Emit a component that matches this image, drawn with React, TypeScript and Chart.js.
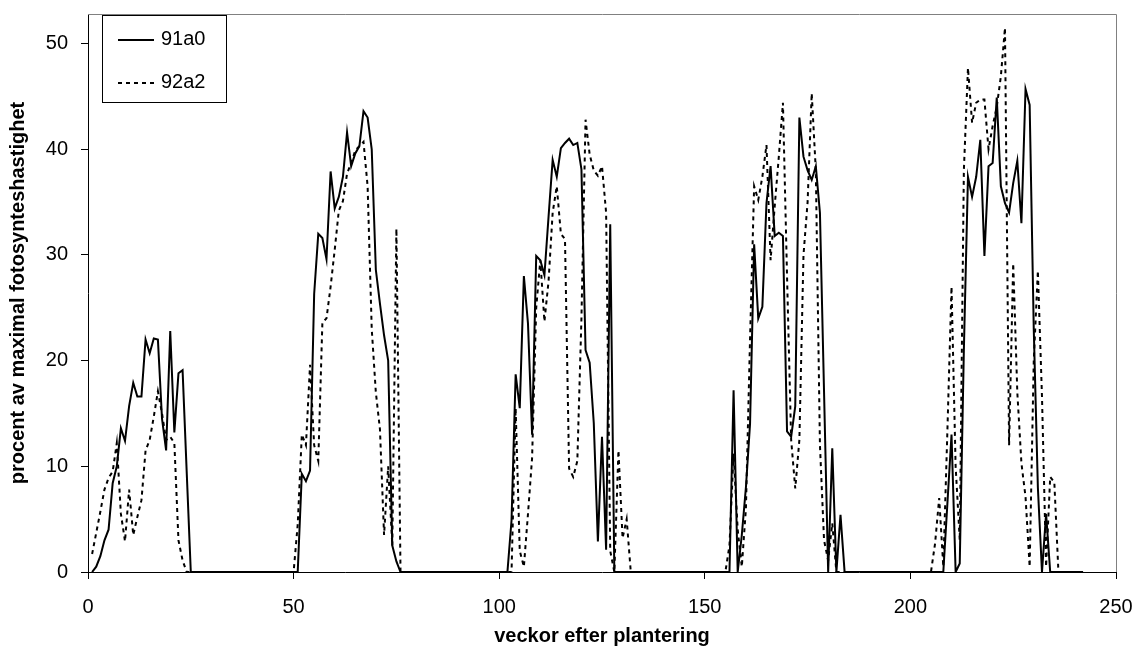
import React, { useEffect, useRef } from "react";
import { Chart, registerables } from "chart.js";

Chart.register(...registerables);

const FONT = "'Liberation Sans', Arial, Helvetica, sans-serif";

const seriesLabels = ["91a0", "92a2"];
const xAxisTitle = "veckor efter plantering";
const yAxisTitle = "procent av maximal fotosynteshastighet";
const xTicks = [0, 50, 100, 150, 200, 250];
const yTicks = [0, 10, 20, 30, 40, 50];

// Series 91a0 (solid)
const weeks91a0 = [
  1, 2, 3, 4, 5, 6, 7, 8, 9, 10, 11, 12, 13, 14, 15, 16, 17, 18, 19, 20, 21, 22, 23, 24, 25,
  51, 52, 53, 54, 55, 56, 57, 58, 59, 60, 61, 62, 63, 64, 65, 66, 67, 68, 69, 70, 71, 72, 73, 74, 75, 76,
  102, 103, 104, 105, 106, 107, 108, 109, 110, 111, 112, 113, 114, 115, 116, 117, 118, 119, 120, 121, 122, 123, 124, 125, 126, 127, 128,
  156, 157, 158, 159, 160, 161, 162, 163, 164, 165, 166, 167, 168, 169, 170, 171, 172, 173, 174, 175, 176, 177, 178, 179, 180, 181, 182, 183, 184,
  208, 209, 210, 211, 212, 213, 214, 215, 216, 217, 218, 219, 220, 221, 222, 223, 224, 225, 226, 227, 228, 229, 230, 231, 232, 233, 234, 242,
];
const values91a0 = [
  0, 0.5, 1.5, 3.0, 4.0, 8.4, 10.0, 13.6, 12.4, 15.7, 17.9, 16.6, 16.6, 22.0, 20.7, 22.1, 22.0, 14.5, 11.5, 22.8, 13.2, 18.8, 19.1, 9.5, 0,
  0, 9.3, 8.6, 9.6, 26.3, 32.0, 31.6, 29.6, 37.9, 34.4, 35.5, 37.4, 41.6, 38.4, 39.6, 40.3, 43.6, 43.0, 40.0, 28.6, 25.4, 22.4, 20.0, 2.5, 1.0, 0,
  0, 4.9, 18.7, 15.5, 28.0, 23.5, 13.0, 29.9, 29.5, 28.1, 33.6, 39.0, 37.4, 40.1, 40.6, 41.0, 40.4, 40.6, 38.1, 21.0, 19.8, 14.1, 2.9, 12.8, 2.1, 32.9, 0,
  0, 17.2, 0, 3.5, 8.0, 14.0, 31.0, 24.0, 25.1, 34.9, 38.4, 31.8, 32.1, 31.8, 13.3, 12.8, 15.7, 43.0, 39.3, 38.0, 37.1, 38.4, 34.0, 17.0, 0, 11.7, 0, 5.4, 0,
  0, 6.5, 13.0, 0, 0.8, 21.0, 37.4, 35.5, 37.4, 40.9, 29.9, 38.4, 38.7, 44.9, 36.5, 34.9, 34.0, 36.8, 38.9, 33.0, 45.7, 44.2, 23.0, 8.0, 0, 5.5, 0, 0,
];

// Series 92a2 (dotted)
const weeks92a2 = [
  1, 2, 3, 4, 5, 6, 7, 8, 9, 10, 11, 12, 13, 14, 15, 16, 17, 18, 19, 20, 21, 22, 23, 24,
  50, 51, 52, 53, 54, 55, 56, 57, 58, 59, 60, 61, 62, 63, 64, 65, 66, 67, 68, 69, 70, 71, 72, 73, 74, 75, 76,
  103, 104, 105, 106, 107, 108, 109, 110, 111, 112, 113, 114, 115, 116, 117, 118, 119, 120, 121, 122, 123, 124, 125, 126, 127, 128, 129, 130, 131, 132,
  155, 156, 157, 158, 159, 160, 161, 162, 163, 164, 165, 166, 167, 168, 169, 170, 171, 172, 173, 174, 175, 176, 177, 178, 179, 180, 181, 182,
  205, 206, 207, 208, 209, 210, 211, 212, 213, 214, 215, 216, 217, 218, 219, 220, 221, 222, 223, 224, 225, 226, 227, 228, 229, 230, 231, 232, 233, 234, 235, 236,
];
const values92a2 = [
  1.7, 3.7, 5.7, 7.8, 8.9, 9.5, 12.2, 5.5, 2.9, 7.8, 3.5, 5.2, 6.8, 11.5, 12.5, 14.7, 17.1, 15.0, 12.5, 12.8, 12.2, 3.0, 1.1, 0,
  0, 4.5, 13.0, 12.0, 19.6, 12.0, 10.5, 23.6, 24.0, 27.0, 30.5, 34.2, 35.1, 37.7, 38.7, 39.9, 40.3, 40.7, 36.5, 23.0, 17.0, 13.5, 3.5, 10.0, 2.5, 32.5, 0,
  0, 15.5, 2.0, 0.5, 5.5, 10.8, 25.0, 29.5, 23.7, 27.5, 34.0, 36.5, 32.0, 31.5, 9.8, 9.0, 10.5, 24.0, 42.8, 39.5, 38.0, 37.5, 38.4, 34.0, 2.0, 0, 11.5, 3.2, 5.0, 0,
  0, 2.5, 11.2, 4.0, 0.5, 6.0, 22.0, 36.5, 35.2, 37.4, 40.4, 29.5, 34.6, 39.3, 44.4, 28.0, 12.5, 7.9, 12.5, 30.0, 35.0, 45.3, 38.0, 12.0, 3.0, 1.1, 4.6, 0,
  0, 2.7, 7.0, 0.5, 13.4, 27.0, 10.0, 3.0, 38.0, 47.7, 42.5, 44.4, 44.7, 44.7, 40.0, 42.2, 44.0, 46.9, 51.5, 12.0, 29.2, 17.0, 10.3, 7.1, 0.5, 20.0, 28.5, 16.6, 0.5, 9.0, 8.5, 0,
];

const plotBorderPlugin = {
  id: "plotBorder",
  beforeDatasetsDraw(chart: any) {
    const { ctx, chartArea } = chart;
    ctx.save();
    ctx.strokeStyle = "#808080";
    ctx.lineWidth = 1;
    ctx.beginPath();
    ctx.moveTo(chartArea.left, Math.round(chartArea.top) + 0.5);
    ctx.lineTo(Math.round(chartArea.right) + 0.5, Math.round(chartArea.top) + 0.5);
    ctx.lineTo(Math.round(chartArea.right) + 0.5, chartArea.bottom);
    ctx.stroke();
    ctx.restore();
  },
};

const boxLegendPlugin = {
  id: "boxLegend",
  afterDraw(chart: any) {
    const { ctx } = chart;
    const left = 102;
    const top = 15;
    const w = 124;
    const h = 87;
    ctx.save();
    ctx.fillStyle = "#ffffff";
    ctx.fillRect(left, top, w, h);
    ctx.strokeStyle = "#000000";
    ctx.lineWidth = 1;
    ctx.setLineDash([]);
    ctx.strokeRect(left + 0.5, top + 0.5, w, h);
    const rows = [40, 83];
    chart.data.datasets.forEach((ds: any, i: number) => {
      const y = rows[i];
      ctx.beginPath();
      ctx.strokeStyle = "#000";
      ctx.lineWidth = 2;
      ctx.setLineDash(ds.borderDash || []);
      ctx.moveTo(118, y);
      ctx.lineTo(154, y);
      ctx.stroke();
      ctx.setLineDash([]);
      ctx.fillStyle = "#000";
      ctx.font = `20px ${FONT}`;
      ctx.textBaseline = "middle";
      ctx.textAlign = "left";
      ctx.fillText(ds.label, 161, y - 1);
    });
    ctx.restore();
  },
};

const zeroPadding = (s: any) => {
  s.paddingLeft = 0;
  s.paddingRight = 0;
  s.paddingTop = 0;
  s.paddingBottom = 0;
};

export default function App() {
  const ref = useRef<HTMLCanvasElement | null>(null);

  useEffect(() => {
    document.body.style.margin = "0";
    const canvas = ref.current;
    if (!canvas) return;
    const chart = new Chart(canvas, {
      type: "line",
      data: {
        datasets: [
          {
            label: seriesLabels[0],
            data: weeks91a0.map((w, i) => ({ x: w, y: values91a0[i] })),
            borderColor: "#000000",
            borderWidth: 2,
            pointRadius: 0,
            tension: 0,
            fill: false,
          },
          {
            label: seriesLabels[1],
            data: weeks92a2.map((w, i) => ({ x: w, y: values92a2[i] })),
            borderColor: "#000000",
            borderWidth: 2,
            borderDash: [4, 4],
            pointRadius: 0,
            tension: 0,
            fill: false,
          },
        ],
      },
      options: {
        responsive: false,
        animation: false,
        layout: { padding: { top: 14, right: 21, left: 0, bottom: 0 } },
        plugins: {
          legend: { display: false },
          tooltip: { enabled: false },
        },
        scales: {
          x: {
            type: "linear",
            min: 0,
            max: 250,
            afterBuildTicks: (s: any) => {
              s.ticks = xTicks.map((v) => ({ value: v }));
            },
            afterFit: (s: any) => {
              s.height = 87;
              zeroPadding(s);
            },
            ticks: {
              font: { family: FONT, size: 20 },
              color: "#000",
              padding: 16,
              maxRotation: 0,
              autoSkip: false,
            },
            grid: { drawOnChartArea: false, drawTicks: true, tickLength: 7, color: "#000" },
            border: { color: "#000", width: 1 },
            title: {
              display: true,
              text: xAxisTitle,
              font: { family: FONT, size: 20, weight: "bold" },
              color: "#000",
              padding: { top: 0, bottom: 11 },
            },
          },
          y: {
            type: "linear",
            min: 0,
            max: 52.8,
            afterBuildTicks: (s: any) => {
              s.ticks = yTicks.map((v) => ({ value: v }));
            },
            afterFit: (s: any) => {
              s.width = 88;
              zeroPadding(s);
            },
            ticks: {
              font: { family: FONT, size: 20 },
              color: "#000",
              padding: 13,
              autoSkip: false,
            },
            grid: { drawOnChartArea: false, drawTicks: true, tickLength: 7, color: "#000" },
            border: { color: "#000", width: 1 },
            title: {
              display: true,
              text: yAxisTitle,
              font: { family: FONT, size: 20, weight: "bold" },
              color: "#000",
              padding: { top: 6, bottom: 0 },
            },
          },
        },
      },
      plugins: [plotBorderPlugin, boxLegendPlugin],
    } as any);
    return () => chart.destroy();
  }, []);

  return (
    <div style={{ position: "absolute", left: 0, top: 0, width: 1137, height: 659, background: "#fff" }}>
      <canvas ref={ref} width={1137} height={659} style={{ display: "block", width: 1137, height: 659 }} />
    </div>
  );
}
